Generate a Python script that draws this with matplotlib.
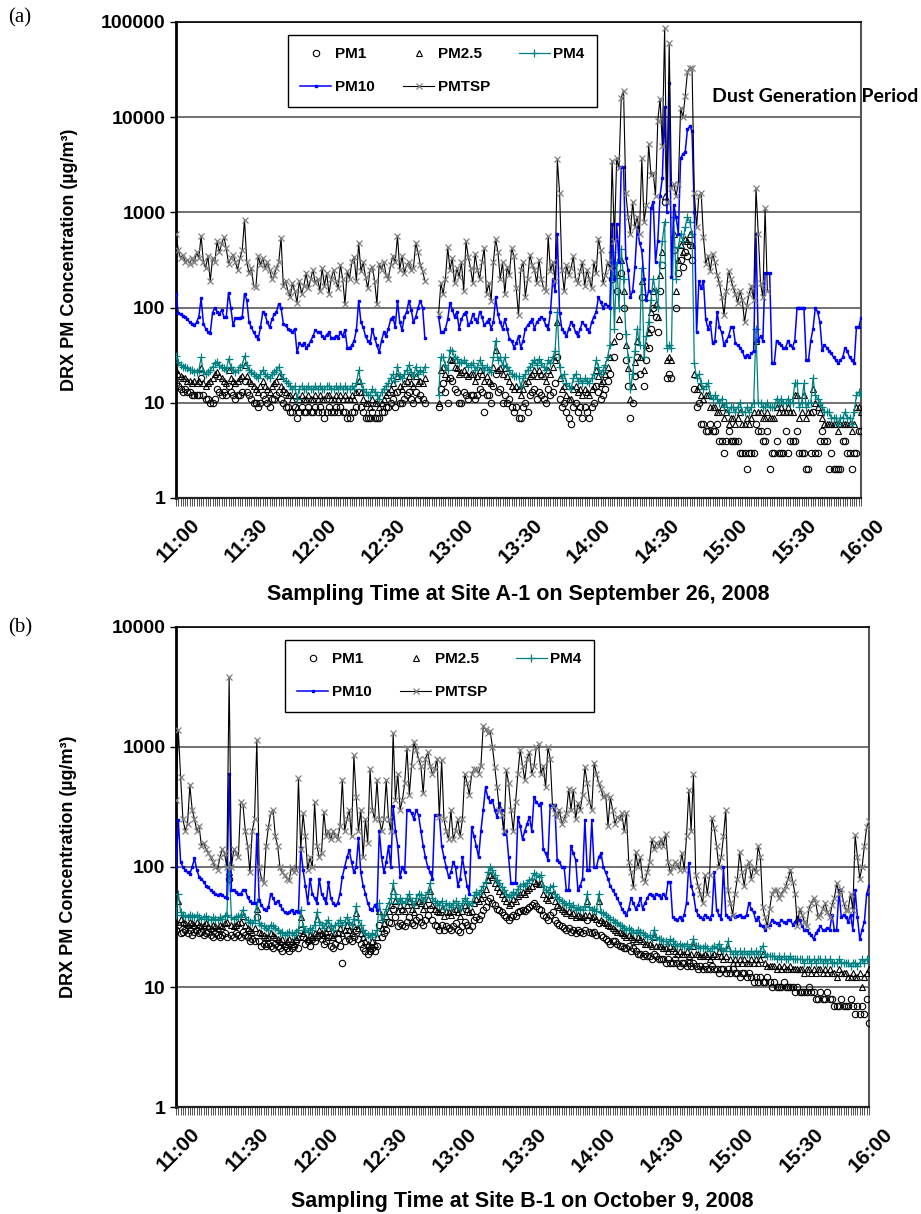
import numpy as np
import matplotlib
matplotlib.use("Agg")
import matplotlib.pyplot as plt
from matplotlib.ticker import FixedLocator, FuncFormatter, MultipleLocator, NullLocator
import matplotlib.transforms as mtransforms

nan = float("nan")

# one reading per minute, 11:00 -> 16:00
minutes = np.arange(301)
time_ticks = list(range(0, 301, 30))
time_labels = ["11:00", "11:30", "12:00", "12:30", "13:00", "13:30",
               "14:00", "14:30", "15:00", "15:30", "16:00"]

# ---------------- Site A-1, September 26, 2008 (µg/m³) ----------------
a_pm1 = [
    16, 15, 14, 13, 14, 13, 13, 12, 12, 12,
    12, 18, 12, 11, 11, 10, 10, 11, 14, 13,
    12, 13, 12, 15, 13, 12, 11, 12, 12, 13,
    17, 13, 12, 11, 10, 10, 9, 10, 12, 11,
    10, 9, 11, 11, 12, 13, 11, 10, 9, 9,
    8, 8, 9, 7, 8, 9, 8, 8, 9, 8,
    8, 9, 8, 9, 8, 7, 8, 9, 8, 8,
    9, 8, 9, 8, 8, 7, 7, 8, 8, 9,
    13, 9, 8, 7, 7, 7, 8, 7, 7, 7,
    8, 8, 9, 9, 10, 11, 9, 13, 10, 10,
    11, 12, 13, 11, 10, 13, 11, 12, 11, 10,
    nan, nan, nan, nan, nan, 9, 14, 16, 13, 10,
    18, 17, 14, 13, 10, 10, 13, 12, 11, 12,
    12, 11, 12, 14, 13, 8, 12, 12, 10, 15,
    20, 13, 14, 10, 12, 10, 11, 9, 8, 9,
    7, 7, 9, 10, 8, 12, 13, 14, 11, 13,
    12, 11, 10, 14, 12, 13, 16, 30, 11, 9,
    10, 8, 7, 6, 9, 10, 8, 9, 7, 9,
    8, 7, 9, 10, 15, 13, 11, 12, 14, 17,
    20, 200, 30, 150, 50, 230, 100, 28, 15, 7,
    10, 19, 30, 20, 130, 15, 28, 38, 60, 100,
    80, 55, 150, 280, 1300, 18, 20, 18, 400, 100,
    230, 320, 270, 380, 350, 450, 320, 14, 9, 10,
    6, 6, 5, 5, 6, 5, 5, 6, 4, 4,
    3, 4, 5, 4, 4, 4, 4, 3, 3, 3,
    2, 3, 3, 3, 6, 5, 5, 4, 4, 5,
    2, 3, 3, 4, 3, 3, 3, 5, 3, 4,
    4, 4, 5, 3, 3, 3, 2, 2, 3, 8,
    3, 3, 4, 5, 4, 4, 2, 3, 2, 2,
    2, 2, 4, 4, 3, 3, 2, 3, 3, 5,
    5,
]

a_pm25 = [
    22, 20, 19, 18, 18, 17, 17, 16, 17, 16,
    17, 23, 16, 15, 16, 17, 18, 20, 21, 19,
    18, 17, 16, 22, 18, 17, 16, 17, 18, 19,
    25, 19, 17, 16, 15, 14, 13, 15, 17, 15,
    14, 13, 15, 16, 17, 19, 15, 14, 13, 12,
    12, 11, 12, 9, 11, 12, 11, 11, 12, 11,
    11, 12, 11, 12, 11, 11, 12, 12, 11, 11,
    12, 11, 12, 11, 12, 11, 11, 12, 11, 13,
    17, 13, 11, 10, 10, 9, 11, 10, 10, 9,
    10, 11, 12, 13, 14, 16, 13, 19, 15, 14,
    16, 17, 19, 16, 15, 19, 16, 17, 16, 18,
    nan, nan, nan, nan, nan, 10, 22, 24, 20, 18,
    29, 28, 24, 23, 20, 21, 22, 20, 19, 20,
    20, 17, 19, 22, 20, 17, 19, 17, 16, 24,
    36, 22, 23, 20, 23, 19, 17, 15, 14, 15,
    14, 12, 14, 16, 17, 19, 20, 22, 19, 22,
    20, 19, 17, 22, 20, 24, 28, 70, 18, 14,
    15, 12, 11, 11, 14, 15, 13, 14, 12, 14,
    13, 12, 14, 15, 22, 19, 16, 17, 20, 24,
    30, 280, 45, 220, 75, 320, 150, 40, 23, 11,
    15, 27, 45, 30, 190, 22, 40, 55, 90, 150,
    110, 80, 220, 380, 1500, 28, 30, 28, 600, 150,
    320, 450, 380, 520, 500, 600, 450, 20, 14, 15,
    12, 11, 12, 12, 9, 9, 9, 8, 8, 9,
    7, 8, 6, 7, 7, 6, 7, 8, 6, 6,
    7, 6, 7, 8, 45, 8, 8, 7, 7, 8,
    7, 7, 7, 9, 8, 9, 8, 8, 9, 8,
    8, 12, 12, 7, 8, 12, 7, 8, 8, 14,
    10, 9, 8, 7, 6, 6, 6, 6, 6, 6,
    5, 6, 6, 6, 6, 6, 5, 6, 9, 9,
    8,
]

a_pm4 = [
    31, 27, 25, 24, 24, 23, 22, 22, 21, 21,
    22, 30, 21, 20, 21, 22, 24, 26, 27, 25,
    24, 23, 22, 29, 24, 22, 21, 22, 24, 25,
    31, 25, 22, 21, 20, 19, 18, 20, 22, 20,
    19, 18, 20, 21, 22, 24, 20, 18, 17, 16,
    15, 14, 15, 11, 14, 15, 14, 14, 15, 14,
    14, 15, 14, 15, 14, 14, 15, 15, 14, 14,
    15, 14, 15, 14, 15, 14, 14, 15, 14, 16,
    22, 16, 14, 13, 12, 12, 14, 13, 12, 11,
    13, 14, 15, 16, 18, 20, 17, 24, 19, 18,
    20, 22, 25, 21, 19, 24, 20, 22, 21, 24,
    nan, nan, nan, nan, nan, 12, 30, 30, 25, 22,
    36, 35, 30, 29, 26, 27, 28, 26, 24, 25,
    26, 22, 24, 28, 25, 22, 24, 22, 21, 30,
    45, 28, 30, 25, 30, 24, 22, 20, 19, 19,
    19, 15, 18, 20, 22, 24, 26, 28, 25, 29,
    26, 24, 22, 28, 26, 30, 35, 90, 24, 18,
    20, 16, 15, 14, 18, 20, 17, 18, 16, 18,
    17, 16, 18, 20, 28, 24, 20, 22, 25, 30,
    40, 380, 60, 300, 100, 415, 200, 53, 30, 14,
    20, 35, 60, 40, 260, 30, 50, 70, 120, 200,
    150, 100, 300, 500, 800, 38, 40, 38, 900, 200,
    430, 600, 500, 700, 890, 800, 600, 26, 18, 20,
    16, 14, 15, 16, 12, 11, 12, 11, 10, 11,
    9, 10, 8, 9, 9, 8, 9, 10, 8, 8,
    9, 8, 9, 10, 60, 10, 10, 9, 9, 10,
    9, 9, 9, 11, 10, 11, 10, 10, 11, 10,
    10, 16, 16, 9, 10, 16, 9, 10, 10, 18,
    12, 11, 10, 9, 8, 8, 8, 7, 7, 7,
    6, 7, 7, 8, 7, 7, 6, 8, 12, 13,
    12,
]

a_pm10 = [
    140, 87, 85, 82, 80, 75, 70, 68, 65, 70,
    80, 125, 68, 60, 55, 54, 88, 100, 90, 85,
    95, 80, 79, 143, 100, 65, 77, 77, 78, 80,
    140, 120, 70, 62, 55, 50, 47, 62, 90, 85,
    70, 62, 75, 85, 90, 110, 100, 68, 65, 60,
    58, 55, 60, 34, 42, 40, 42, 38, 40, 45,
    50, 58, 55, 56, 50, 48, 52, 55, 48, 48,
    50, 48, 55, 50, 58, 38, 38, 40, 45, 58,
    118, 70, 62, 50, 45, 42, 60, 48, 40, 34,
    45, 55, 50, 60, 75, 80, 62, 118, 70, 58,
    80, 90, 118, 95, 70, 80, 100, 118, 100, 48,
    nan, nan, nan, nan, nan, 80, 55, 55, 60, 75,
    113, 95, 80, 90, 60, 75, 85, 90, 65, 70,
    85, 75, 70, 90, 80, 65, 70, 75, 60, 70,
    128, 85, 70, 60, 75, 60, 47, 45, 38, 42,
    50, 38, 45, 60, 65, 70, 75, 60, 70, 75,
    80, 75, 65, 60, 90, 200, 150, 600, 87, 60,
    55, 50, 60, 70, 65, 55, 50, 60, 70, 65,
    60, 55, 70, 80, 90, 128, 115, 100, 110, 105,
    100, 760, 200, 750, 300, 3000, 3000, 330, 250, 128,
    150, 270, 700, 480, 400, 200, 120, 150, 1100, 1300,
    300, 500, 1500, 2300, 12900, 1000, 23000, 210, 1200, 900,
    600, 3700, 4100, 4300, 7500, 8000, 7200, 1000, 55, 190,
    160, 190, 75, 60, 70, 42, 45, 90, 62, 55,
    40, 45, 50, 62, 62, 42, 40, 38, 35, 30,
    32, 30, 33, 35, 600, 45, 50, 45, 230, 230,
    230, 26, 26, 45, 42, 40, 38, 38, 45, 40,
    38, 45, 100, 100, 100, 100, 28, 28, 45, 60,
    100, 90, 70, 36, 40, 38, 35, 33, 30, 28,
    26, 28, 30, 38, 35, 30, 28, 26, 62, 62,
    77,
]

a_tsp = [
    600, 400, 330, 360, 300, 320, 290, 330, 300, 380,
    330, 570, 300, 260, 350, 190, 330, 300, 500, 380,
    470, 550, 420, 290, 330, 360, 300, 250, 330, 400,
    840, 300, 230, 260, 170, 165, 350, 280, 330, 260,
    300, 250, 200, 220, 260, 300, 540, 170, 190, 150,
    130, 180, 150, 113, 190, 140, 170, 230, 160, 200,
    250, 180, 200, 150, 260, 170, 230, 140, 200, 250,
    190, 160, 280, 200, 108, 240, 200, 300, 340, 190,
    480, 240, 300, 210, 160, 250, 270, 190, 108, 290,
    250, 300, 220, 200, 280, 350, 300, 570, 250, 350,
    230, 280, 300, 250, 260, 480, 380, 280, 240, 192,
    nan, nan, nan, nan, nan, 85, 180, 140, 200, 430,
    250, 330, 180, 260, 210, 300, 150, 500, 340, 260,
    180, 370, 250, 200, 300, 420, 140, 180, 118, 300,
    530, 380, 200, 300, 140, 270, 220, 420, 350, 160,
    83, 250, 300, 130, 200, 360, 280, 250, 180, 320,
    200, 160, 150, 560, 240, 300, 190, 3600, 1600, 250,
    150, 280, 220, 260, 345, 200, 180, 240, 300, 170,
    250, 200, 160, 300, 230, 530, 400, 180, 220, 300,
    260, 3500, 500, 3700, 2900, 16000, 19000, 1600, 900, 600,
    1300, 700, 900, 600, 3700, 800, 1200, 5200, 2500, 2600,
    1500, 9200, 15700, 5000, 87000, 1300, 60000, 1800, 2000, 1500,
    2000, 12500, 10000, 16500, 30000, 33000, 33000, 1600, 700, 1500,
    1600, 550, 290, 350, 245, 370, 300, 220, 180, 130,
    83, 150, 245, 200, 163, 140, 113, 150, 120, 70,
    105, 140, 170, 120, 1800, 600, 180, 128, 1100, 150,
] + [nan] * 41

# ---------------- Site B-1, October 9, 2008 (µg/m³) ----------------
b_pm1 = [
    30, 33, 28, 29, 30, 28, 30, 27, 29, 30,
    28, 29, 27, 28, 29, 27, 26, 28, 27, 26,
    27, 28, 26, 80, 27, 26, 28, 27, 26, 29,
    27, 26, 24, 25, 24, 38, 24, 22, 23, 22,
    23, 22, 21, 23, 22, 21, 20, 22, 21, 20,
    21, 22, 24, 21, 30, 26, 23, 24, 22, 25,
    24, 26, 27, 25, 23, 24, 26, 22, 21, 23,
    25, 22, 16, 24, 27, 25, 24, 26, 30, 25,
    23, 21, 20, 19, 20, 21, 20, 22, 33, 26,
    28, 30, 35, 34, 45, 38, 32, 34, 33, 32,
    35, 38, 34, 33, 36, 38, 35, 33, 36, 40,
    45, 36, 33, 32, 30, 33, 30, 32, 31, 30,
    32, 34, 30, 29, 32, 35, 33, 30, 32, 36,
    38, 37, 40, 44, 46, 52, 55, 50, 48, 45,
    44, 42, 40, 38, 36, 38, 40, 39, 42, 43,
    44, 43, 45, 46, 48, 50, 47, 45, 44, 40,
    38, 36, 40, 42, 36, 34, 33, 32, 31, 30,
    31, 29, 30, 28, 30, 29, 28, 30, 36, 29,
    28, 29, 27, 34, 27, 26, 25, 24, 23, 24,
    24, 23, 22, 22, 21, 21, 22, 20, 21, 20,
    19, 19, 18, 19, 18, 18, 17, 19, 18, 17,
    17, 17, 16, 17, 16, 16, 17, 16, 15, 16,
    16, 15, 16, 15, 16, 15, 14, 15, 14, 15,
    14, 14, 15, 14, 14, 13, 14, 14, 13, 14,
    13, 14, 13, 13, 12, 13, 13, 12, 13, 12,
    11, 12, 11, 12, 11, 11, 12, 11, 10, 11,
    10, 10, 10, 11, 10, 10, 10, 10, 9, 10,
    9, 9, 9, 9, 10, 9, 9, 8, 8, 9,
    8, 8, 9, 8, 8, 7, 7, 7, 8, 7,
    7, 7, 8, 7, 6, 7, 6, 7, 6, 8,
    5,
]

b_pm25 = [
    35, 52, 37, 35, 34, 33, 35, 34, 33, 35,
    33, 32, 33, 34, 32, 31, 33, 32, 31, 33,
    32, 34, 35, 90, 33, 32, 33, 34, 35, 39,
    33, 31, 30, 29, 31, 45, 29, 28, 27, 26,
    26, 28, 27, 26, 25, 24, 25, 23, 24, 25,
    24, 23, 25, 26, 38, 28, 26, 25, 27, 26,
    28, 37, 30, 28, 27, 29, 31, 27, 26, 28,
    29, 31, 28, 30, 33, 30, 28, 32, 41, 31,
    28, 26, 24, 23, 22, 24, 23, 26, 43, 31,
    34, 39, 43, 48, 63, 52, 43, 48, 45, 43,
    48, 52, 45, 42, 48, 52, 50, 45, 48, 54,
    63, 48, 45, 43, 42, 45, 39, 43, 42, 40,
    43, 45, 42, 39, 43, 48, 45, 42, 43, 50,
    54, 52, 55, 60, 65, 78, 86, 82, 74, 68,
    63, 59, 55, 52, 48, 50, 54, 52, 57, 60,
    62, 60, 64, 67, 69, 77, 73, 72, 74, 60,
    55, 53, 58, 60, 52, 48, 46, 45, 43, 41,
    43, 40, 41, 38, 40, 39, 38, 40, 52, 40,
    38, 39, 37, 52, 36, 35, 34, 33, 32, 31,
    30, 29, 29, 28, 27, 26, 27, 26, 25, 24,
    26, 25, 24, 23, 23, 23, 22, 26, 22, 22,
    22, 21, 21, 20, 22, 21, 20, 19, 20, 19,
    19, 20, 18, 19, 22, 19, 19, 18, 18, 19,
    18, 17, 18, 19, 18, 20, 18, 17, 18, 21,
    17, 16, 17, 16, 17, 16, 17, 16, 16, 17,
    16, 17, 16, 17, 19, 16, 15, 15, 15, 15,
    14, 15, 14, 15, 14, 14, 15, 14, 14, 14,
    14, 14, 13, 14, 14, 13, 14, 13, 14, 14,
    13, 14, 13, 14, 13, 13, 12, 14, 13, 13,
    13, 12, 12, 13, 12, 12, 13, 10, 12, 13,
    14,
]

b_pm4 = [
    40, 60, 42, 40, 39, 38, 40, 39, 38, 40,
    38, 37, 38, 39, 37, 36, 38, 37, 36, 38,
    37, 39, 40, 104, 38, 37, 38, 39, 40, 44,
    38, 36, 35, 34, 36, 51, 34, 33, 32, 31,
    30, 33, 32, 31, 30, 28, 29, 27, 28, 29,
    28, 27, 29, 30, 44, 32, 30, 29, 31, 30,
    33, 42, 35, 33, 31, 34, 36, 32, 30, 33,
    34, 36, 33, 35, 38, 35, 33, 37, 47, 36,
    33, 30, 28, 27, 26, 28, 27, 30, 50, 36,
    40, 45, 50, 55, 73, 60, 50, 55, 52, 50,
    55, 60, 52, 48, 55, 60, 58, 52, 56, 62,
    73, 55, 52, 50, 48, 52, 45, 50, 48, 46,
    50, 52, 48, 45, 50, 55, 52, 48, 50, 58,
    62, 60, 64, 70, 75, 90, 100, 95, 85, 78,
    73, 68, 64, 60, 56, 58, 62, 60, 66, 70,
    72, 70, 74, 78, 80, 89, 85, 83, 86, 70,
    64, 62, 68, 70, 60, 56, 54, 52, 50, 48,
    50, 46, 48, 44, 46, 45, 44, 47, 60, 46,
    44, 45, 43, 60, 42, 41, 40, 38, 37, 36,
    35, 34, 33, 32, 31, 30, 31, 30, 29, 28,
    30, 29, 28, 27, 26, 27, 25, 30, 26, 25,
    25, 24, 24, 23, 25, 24, 23, 22, 23, 22,
    22, 23, 21, 22, 25, 22, 22, 21, 21, 22,
    21, 20, 21, 22, 21, 23, 21, 20, 21, 24,
    20, 19, 20, 19, 20, 19, 20, 19, 19, 20,
    19, 20, 19, 20, 22, 19, 18, 18, 18, 18,
    17, 18, 17, 18, 17, 17, 18, 17, 17, 17,
    17, 17, 16, 17, 17, 16, 17, 16, 17, 17,
    16, 17, 16, 17, 16, 16, 16, 17, 16, 16,
    16, 16, 15, 16, 16, 15, 16, 17, 16, 17,
    17,
]

b_pm10 = [
    100, 245, 110, 100, 95, 90, 88, 100, 118, 95,
    83, 80, 75, 70, 68, 64, 62, 60, 58, 60,
    58, 56, 55, 590, 64, 64, 62, 60, 60, 64,
    64, 56, 52, 50, 50, 190, 53, 48, 45, 44,
    46, 60, 55, 50, 52, 48, 45, 42, 41, 42,
    44, 41, 43, 42, 144, 95, 70, 50, 80, 60,
    55, 50, 80, 60, 55, 50, 75, 55, 50, 48,
    50, 60, 83, 100, 120, 138, 110, 90, 100, 175,
    90, 70, 60, 50, 45, 44, 48, 44, 200, 120,
    90, 110, 150, 100, 320, 200, 150, 83, 100, 90,
    300, 300, 280, 250, 300, 270, 200, 150, 120, 100,
    90, 80, 270, 270, 270, 150, 120, 100, 83, 90,
    110, 100, 70, 80, 120, 90, 70, 60, 215, 180,
    150, 120, 200, 300, 460, 380, 350, 360, 300, 260,
    340, 300, 190, 200, 120, 73, 73, 73, 260, 220,
    170, 200, 230, 260, 200, 380, 350, 330, 340, 140,
    130, 115, 330, 330, 330, 115, 110, 100, 100, 64,
    64, 150, 130, 115, 64, 70, 80, 245, 95, 95,
    245, 100, 100, 120, 130, 100, 90, 80, 70, 64,
    60, 55, 50, 45, 42, 40, 45, 55, 50, 45,
    48, 55, 45, 50, 55, 60, 58, 55, 60, 58,
    55, 60, 55, 75, 75, 38, 37, 36, 38, 36,
    40, 50, 108, 70, 60, 44, 40, 38, 37, 40,
    38, 37, 40, 90, 44, 40, 37, 100, 40, 38,
    37, 40, 38, 39, 40, 38, 38, 40, 50, 45,
    42, 36, 38, 33, 32, 30, 32, 33, 36, 35,
    34, 33, 36, 35, 34, 36, 36, 33, 35, 38,
    36, 32, 30, 30, 28, 27, 25, 28, 30, 32,
    30, 30, 31, 30, 40, 30, 30, 64, 38, 40,
    38, 35, 40, 30, 64, 38, 25, 30, 35, 60,
    70,
]

b_tsp = [
    360, 1390, 560, 250, 200, 230, 480, 300, 250, 200,
    220, 150, 160, 140, 130, 120, 110, 100, 95, 120,
    140, 130, 100, 3800, 100, 140, 130, 120, 350, 330,
    200, 150, 90, 200, 250, 1150, 100, 80, 73, 150,
    215, 280, 300, 180, 150, 100, 90, 85, 80, 78,
    100, 90, 95, 550, 140, 280, 180, 95, 120, 100,
    350, 150, 120, 130, 290, 180, 200, 170, 200, 180,
    170, 220, 530, 200, 250, 300, 180, 850, 380, 200,
    300, 120, 250, 160, 650, 300, 250, 530, 250, 200,
    250, 530, 250, 200, 1300, 360, 600, 300, 360, 500,
    980, 400, 700, 1100, 950, 800, 700, 410, 800, 900,
    700, 600, 650, 800, 260, 780, 250, 200, 170, 300,
    170, 200, 250, 180, 250, 600, 500, 400, 600, 650,
    650, 600, 700, 1500, 1400, 1300, 1350, 1000, 680, 460,
    300, 270, 200, 640, 500, 300, 200, 350, 600, 950,
    700, 530, 800, 900, 600, 700, 1000, 1050, 590, 700,
    460, 1000, 800, 320, 280, 260, 300, 230, 250, 280,
    450, 300, 440, 250, 340, 300, 400, 680, 500, 350,
    300, 740, 600, 500, 450, 380, 400, 220, 380, 300,
    230, 260, 250, 280, 200, 280, 110, 90, 68, 133,
    100, 120, 80, 75, 90, 110, 170, 140, 160, 150,
    170, 150, 190, 110, 90, 100, 110, 105, 95, 130,
    95, 180, 440, 200, 590, 85, 70, 60, 50, 85,
    60, 85, 255, 210, 150, 100, 120, 180, 300, 64,
    50, 40, 60, 80, 133, 90, 70, 100, 110, 80,
    100, 90, 150, 120, 46, 38, 32, 45, 60, 64,
    64, 55, 60, 64, 70, 80, 95, 75, 60, 32,
    45, 40, 35, 32, 45, 50, 55, 50, 38, 40,
    45, 50, 42, 38, 48, 55, 73, 60, 65, 50,
    44, 44, 60, 44, 185, 120, 80, 100, 150, 215,
    240,
]

plt.rcParams["font.family"] = ["Liberation Sans", "DejaVu Sans"]

W, H = 921, 1214
fig = plt.figure(figsize=(W / 100, H / 100), dpi=100)


def px_axes(left, top, right, bottom):
    return fig.add_axes([left / W, 1 - bottom / H, (right - left) / W, (bottom - top) / H])


def draw_panel(ax, pm1, pm25, pm4, pm10, tsp, ymax):
    h1, = ax.plot(minutes, pm1, ls="none", marker="o", ms=4.6, mfc="none",
                  mec="black", mew=0.8, label="PM1", zorder=3)
    h25, = ax.plot(minutes, pm25, ls="none", marker="^", ms=4.8, mfc="none",
                   mec="black", mew=0.8, label="PM2.5", zorder=3)
    h4, = ax.plot(minutes, pm4, color="#008080", lw=0.9, marker="+", ms=5.5,
                  mew=0.9, label="PM4", zorder=4)
    h10, = ax.plot(minutes, pm10, color="#0000FF", lw=1.1, marker="s", ms=1.9,
                   label="PM10", zorder=5)
    ht, = ax.plot(minutes, tsp, color="black", lw=0.8, marker="x", ms=5,
                  mec="#808080", mew=0.9, label="PMTSP", zorder=6)

    ax.set_yscale("log")
    ax.set_ylim(1, ymax)
    ax.set_xlim(0, 300)

    decades = [10 ** k for k in range(int(np.log10(ymax)) + 1)]
    ax.yaxis.set_major_locator(FixedLocator(decades))
    ax.yaxis.set_minor_locator(NullLocator())
    ax.yaxis.set_major_formatter(FuncFormatter(lambda v, p: f"{int(round(v))}"))
    ax.yaxis.grid(True, which="major", color="#4a4a4a", lw=1.1)
    ax.set_axisbelow(True)

    ax.xaxis.set_major_locator(FixedLocator(time_ticks))
    ax.xaxis.set_minor_locator(MultipleLocator(1))
    ax.set_xticklabels(time_labels)
    ax.tick_params(axis="x", which="both", direction="out", length=6,
                   width=0.6, color="#333333")
    ax.tick_params(axis="y", which="major", direction="out", length=4,
                   width=1.0, labelsize=14)
    for lab in ax.get_yticklabels():
        lab.set_fontweight("bold")

    offset = mtransforms.ScaledTranslation(14 / 100, -4 / 100, fig.dpi_scale_trans)
    for lab in ax.get_xticklabels():
        lab.set_rotation(45)
        lab.set_ha("right")
        lab.set_va("top")
        lab.set_rotation_mode("anchor")
        lab.set_fontsize(15)
        lab.set_fontweight("bold")
        lab.set_transform(lab.get_transform() + offset)

    ax.spines["left"].set_linewidth(2.0)
    ax.spines["left"].set_color("black")
    ax.spines["bottom"].set_linewidth(1.6)
    ax.spines["bottom"].set_color("#222222")
    ax.spines["top"].set_linewidth(1.2)
    ax.spines["top"].set_color("black")
    ax.spines["right"].set_linewidth(1.5)
    ax.spines["right"].set_color("#555555")

    ax.set_ylabel("DRX PM Concentration (µg/m³)", fontsize=13, fontweight="bold")
    ax.yaxis.set_label_coords(-0.143, 0.5)
    return [h1, h10, h25, ht, h4]


def add_legend(ax, handles, x, y):
    leg = ax.legend(handles=handles, ncol=3, loc="upper left",
                    bbox_to_anchor=(x, y), borderaxespad=0,
                    prop={"size": 11, "weight": "bold"},
                    frameon=True, fancybox=False, edgecolor="black",
                    framealpha=1, handlelength=2.0, handletextpad=0.25,
                    columnspacing=1.9, labelspacing=1.25, borderpad=0.8)
    leg.get_frame().set_linewidth(1.0)
    leg.set_zorder(10)
    return leg


ax_a = px_axes(176, 22, 861, 498)
hand_a = draw_panel(ax_a, a_pm1, a_pm25, a_pm4, a_pm10, a_tsp, 100000)
add_legend(ax_a, hand_a, (288 - 176) / 685, (498 - 35) / 476)
ax_a.set_xlabel("Sampling Time at Site A-1 on September 26, 2008",
                fontsize=15.5, fontweight="bold")
ax_a.xaxis.set_label_coords(0.5, -0.18)

ax_b = px_axes(176, 627, 869, 1107)
hand_b = draw_panel(ax_b, b_pm1, b_pm25, b_pm4, b_pm10, b_tsp, 10000)
add_legend(ax_b, hand_b, (285 - 176) / 693, (1107 - 640) / 480)
ax_b.set_xlabel("Sampling Time at Site B-1 on October 9, 2008",
                fontsize=15.5, fontweight="bold")
ax_b.xaxis.set_label_coords(0.5, -0.174)

fig.text(712 / W, 1 - 96 / H, "Dust Generation Period", ha="left", va="center",
         fontsize=14, fontweight="bold", family=["Lato", "DejaVu Sans"])

fig.text(8 / W, 1 - 18 / H, "(a)", ha="left", va="center", fontsize=15,
         family=["Liberation Serif", "DejaVu Serif"])
fig.text(8 / W, 1 - 628 / H, "(b)", ha="left", va="center", fontsize=15,
         family=["Liberation Serif", "DejaVu Serif"])

fig.savefig("out.png", dpi=100)
